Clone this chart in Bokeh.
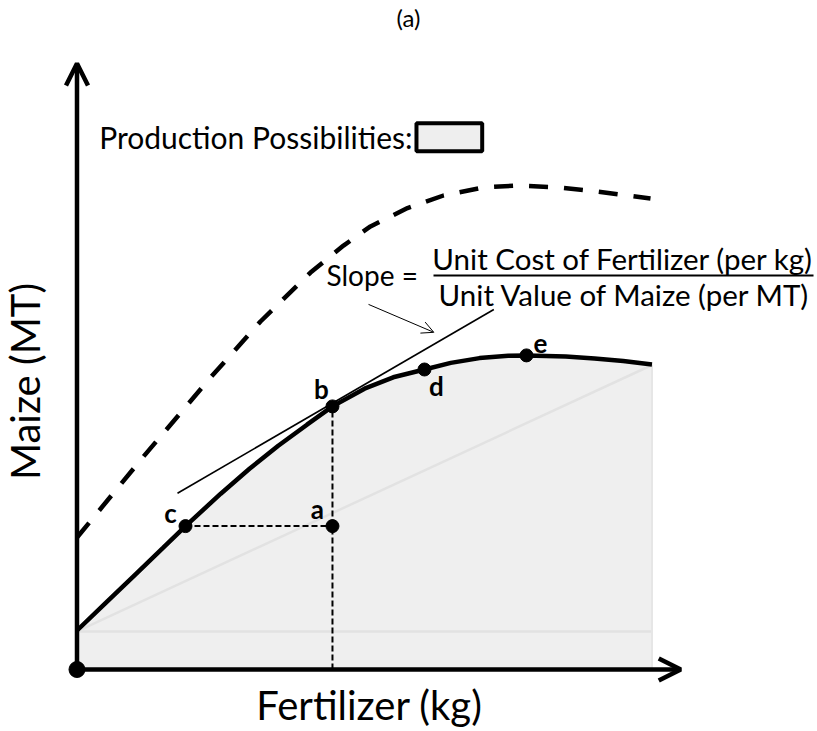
from bokeh.plotting import figure
from bokeh.models import Range1d, Label, Arrow, OpenHead, ColumnDataSource
from bokeh.core.properties import value
from bokeh.embed import file_html
from bokeh.resources import INLINE

# ---------------- data ----------------
# production function (solid curve)
fert = [0.0, 0.5, 1.0, 1.5, 1.887, 2.5, 3.0, 3.5, 4.0, 4.443, 5.0, 5.5,
        6.043, 6.5, 7.0, 7.5, 7.817, 8.5, 9.0, 9.5, 10.0]
maize = [1.30, 2.22, 3.14, 4.06, 4.78, 5.86, 6.69, 7.46, 8.16, 8.77, 9.36, 9.74,
         10.00, 10.22, 10.38, 10.46, 10.47, 10.43, 10.37, 10.28, 10.17]

# shifted production function (dashed curve)
fert_hi = [0.0, 1.157, 2.322, 3.191, 4.061, 4.635, 5.104, 5.748, 6.374, 7.07,
           7.661, 8.357, 9.052, 9.974]
maize_hi = [4.40, 7.10, 9.73, 11.60, 13.23, 14.13, 14.77, 15.38, 15.80, 16.07,
            16.13, 16.07, 15.93, 15.70]

# faint reference lines inside the shaded area
base_x = [0.0, 10.0]
base_flat = [1.27, 1.27]
base_diag = [1.27, 10.15]

# tangent at b
tangent_x = [1.748, 7.249]
tangent_y = [5.877, 12.0]

# labelled points
pt_names = ["c", "a", "b", "d", "e"]
pt_x = [1.887, 4.443, 4.443, 6.043, 7.817]
pt_y = [4.78, 4.78, 8.77, 10.00, 10.47]

# axis extents
x_max = 10.5
y_max = 20.2

FONT = "Lato"

p = figure(width=817, height=731,
           x_range=Range1d(-1.3304, 12.8783), y_range=Range1d(-2.0667, 22.3),
           output_backend="svg", toolbar_location=None, min_border=0)
p.axis.visible = False
p.grid.visible = False
p.outline_line_color = None
p.background_fill_color = "white"
p.border_fill_color = "white"

# shaded production possibilities
p.varea(x=fert, y1=[0] * len(fert), y2=maize, fill_color="#efefef")
p.line(base_x, base_flat, line_color="#e2e2e2", line_width=2.5)
p.line(base_x, base_diag, line_color="#e2e2e2", line_width=2.5)
p.line([fert[-1], fert[-1]], [0, maize[-1]], line_color="#e6e6e6", line_width=2)

# dashed guides c->a and b->axis
p.line([pt_x[0], pt_x[1]], [pt_y[0], pt_y[1]], line_color="black",
       line_width=2, line_dash="6 3")
p.line([pt_x[2], pt_x[2]], [0, pt_y[2]], line_color="black",
       line_width=2, line_dash="6 3")

# tangent line
p.line(tangent_x, tangent_y, line_color="black", line_width=1.6)

# curves
p.line(fert, maize, line_color="black", line_width=4.5)
p.line(fert_hi, maize_hi, line_color="black", line_width=4.5, line_dash="19 16")

# axes with arrows
p.add_layout(Arrow(end=OpenHead(size=22, line_width=4.5, line_color="black"),
                   x_start=0, y_start=0, x_end=0, y_end=y_max,
                   line_width=4.5, line_color="black"))
p.add_layout(Arrow(end=OpenHead(size=22, line_width=4.5, line_color="black"),
                   x_start=0, y_start=0, x_end=x_max, y_end=0,
                   line_width=4.5, line_color="black"))

# points
p.scatter(pt_x, pt_y, size=13, color="black")
p.scatter([0], [0], size=16, color="black")

src = ColumnDataSource(dict(x=pt_x, y=pt_y, t=pt_names,
                            dx=[-15, -15, -11, 12, 14],
                            dy=[-13, -17, -17, 17, -12]))
p.text(x="x", y="y", text="t", x_offset="dx", y_offset="dy", source=src,
       text_font=value(FONT), text_font_size="26px", text_font_style="bold",
       text_align="center", text_baseline="middle", text_color="black")

# pointer arrow to the tangent
p.add_layout(Arrow(end=OpenHead(size=12, line_width=1, line_color="black"),
                   x_start=5.07, y_start=12.17, x_end=6.205, y_end=11.24,
                   line_width=1, line_color="black"))

# slope formula
FRAC_Y = 13.13
p.add_layout(Label(x=4.34, y=FRAC_Y, y_offset=1, text="Slope =", text_font=FONT,
                   text_font_size="28px", text_align="left",
                   text_baseline="middle", text_color="black"))
p.line([6.2, 12.809], [FRAC_Y, FRAC_Y], line_color="black", line_width=2)
p.add_layout(Label(x=9.496, y=FRAC_Y, y_offset=17, text="Unit Cost of Fertilizer (per kg)",
                   text_font=FONT, text_font_size="29.5px", text_align="center",
                   text_baseline="middle", text_color="black"))
p.add_layout(Label(x=9.522, y=FRAC_Y, y_offset=-19, text="Unit Value of Maize (per MT)",
                   text_font=FONT, text_font_size="29.5px", text_align="center",
                   text_baseline="middle", text_color="black"))

# legend
p.quad(left=5.904, right=7.047, bottom=17.277, top=18.21,
       fill_color="#eeeeee", line_color="black", line_width=4)
p.add_layout(Label(x=5.904, y=17.74, x_offset=-4, text="Production Possibilities:",
                   text_font=FONT, text_font_size="30px", text_align="right",
                   text_baseline="middle", text_color="black"))

# axis titles and panel title
p.add_layout(Label(x=5.087, y=-1.2, text="Fertilizer (kg)", text_font=FONT,
                   text_font_size="40px", text_align="center",
                   text_baseline="middle", text_color="black"))
p.add_layout(Label(x=-0.896, y=9.6, text="Maize (MT)", text_font=FONT,
                   text_font_size="40px", text_align="center", angle=1.5708,
                   text_baseline="middle", text_color="black"))
p.add_layout(Label(x=5.765, y=21.73, text="(a)", text_font=FONT,
                   text_font_size="24px", text_align="center",
                   text_baseline="middle", text_color="black"))

open("out.html", "w").write(file_html(p, INLINE))
